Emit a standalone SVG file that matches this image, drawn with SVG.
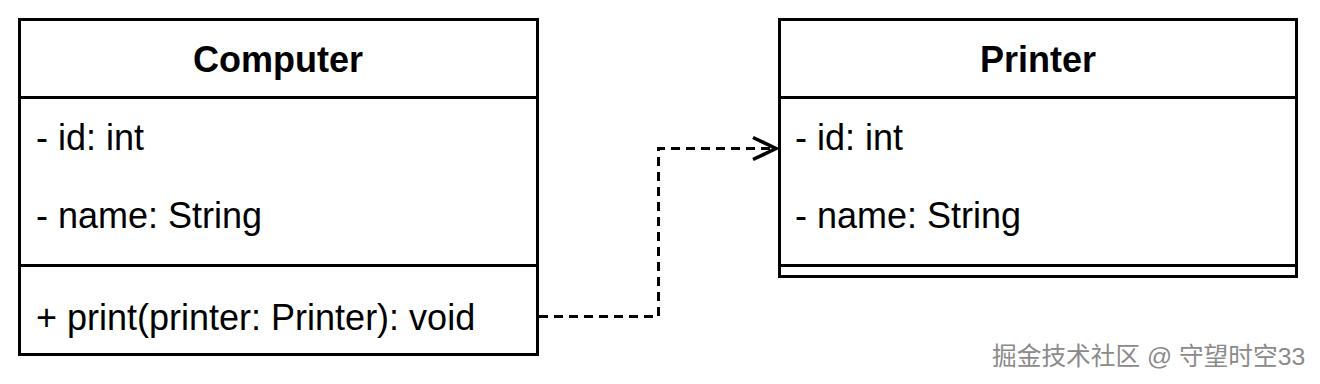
<svg xmlns="http://www.w3.org/2000/svg" width="1320" height="384" viewBox="0 0 1320 384">
<style>
.box{fill:#fff;stroke:#000;stroke-width:3}
.ln{stroke:#000;stroke-width:3;fill:none}
.t{font-family:"Liberation Sans",Arial,sans-serif;font-size:36px;fill:#000}
.h{font-family:"Liberation Sans",Arial,sans-serif;font-size:36px;font-weight:bold;fill:#000;text-anchor:middle}
.wm{font-family:"Liberation Sans","Noto Sans CJK SC",sans-serif;font-size:24.7px;fill:#8a8a8a;stroke:#fff;stroke-width:0.6;paint-order:stroke}
</style>
<defs>
<marker id="open" markerWidth="30" markerHeight="30" refX="26" refY="15" orient="auto" markerUnits="userSpaceOnUse">
<path d="M2,4 L25,15 L2,26" fill="none" stroke="#000" stroke-width="3.5"/>
</marker>
</defs>
<rect width="1320" height="384" fill="#fff"/>
<g id="computer">
<rect class="box" x="19.5" y="19.5" width="518" height="335"/>
<line class="ln" x1="19.5" y1="97.5" x2="537.5" y2="97.5"/>
<line class="ln" x1="19.5" y1="265.5" x2="537.5" y2="265.5"/>
<text class="h" x="278" y="72">Computer</text>
<text class="t" x="36" y="150">- id: int</text>
<text class="t" x="36" y="228">- name: String</text>
<text class="t" x="36" y="330">+ print(printer: Printer): void</text>
</g>
<g id="printer">
<rect class="box" x="779.5" y="19.5" width="517" height="257"/>
<line class="ln" x1="779.5" y1="97.5" x2="1296.5" y2="97.5"/>
<line class="ln" x1="779.5" y1="265.5" x2="1296.5" y2="265.5"/>
<text class="h" x="1038" y="72">Printer</text>
<text class="t" x="795" y="150">- id: int</text>
<text class="t" x="795" y="228">- name: String</text>
</g>
<g id="connectors">
<path class="ln" d="M539,316.5 H658.5 V148.5 H777" stroke-dasharray="9 6" marker-end="url(#open)"/>
</g>
<text class="wm" x="992" y="365">掘金技术社区 @ 守望时空33</text>
</svg>
